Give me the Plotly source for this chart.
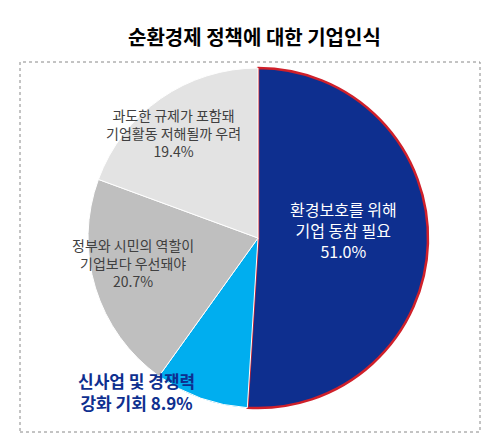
import plotly.graph_objects as go

labels = ["환경보호를 위해 기업 동참 필요", "신사업 및 경쟁력 강화 기회", "정부와 시민의 역할이 기업보다 우선돼야", "과도한 규제가 포함돼 기업활동 저해될까 우려"]
values = [51.0, 8.9, 20.7, 19.4]
colors = ["#0e2f8f", "#00aeef", "#bfbfbf", "#e3e3e3"]

W, H = 492, 441
def px(x, y):
    return x / W, 1 - y / H

fig = go.Figure(go.Pie(
    labels=labels, values=values, sort=False, direction="clockwise", rotation=0,
    marker=dict(colors=colors, line=dict(color=["#d0202a", "white", "white", "white"], width=[2.5, 1, 1, 1])),
    textinfo="none", hoverinfo="label+percent", showlegend=False,
    domain=dict(x=[80 / W, 420 / W], y=[1 - 400 / H, 1 - 60 / H]),
))

font = "Noto Sans CJK KR"
notes = [
    (labels[0].replace("위해 ", "위해<br>") + "<br>%.1f%%" % values[0], 335, 222, "white", 16, False),
    ("신사업 및 경쟁력<br>강화 기회 %.1f%%" % values[1], 128, 383, "#0e2f8f", 17, True),
    ("정부와 시민의 역할이<br>기업보다 우선돼야<br>%.1f%%" % values[2], 125, 255, "#404040", 14, False),
    ("과도한 규제가 포함돼<br>기업활동 저해될까 우려<br>%.1f%%" % values[3], 165, 125, "#404040", 14, False),
]
for text, x, y, c, s, b in notes:
    xx, yy = px(x, y)
    fig.add_annotation(x=xx, y=yy, xref="paper", yref="paper", showarrow=False,
                       xanchor="center", yanchor="middle",
                       text="<b>%s</b>" % text if b else text,
                       font=dict(family=font, size=s, color=c), align="center")

x0, y0 = px(12, 424)
x1, y1 = px(472, 54)
fig.add_shape(type="rect", xref="paper", yref="paper", x0=x0, y0=y0, x1=x1, y1=y1,
              line=dict(color="#888888", width=1, dash="dot"), layer="below")

tx, ty = px(246, 28)
fig.add_annotation(x=tx, y=ty, xref="paper", yref="paper", showarrow=False,
                   xanchor="center", yanchor="middle",
                   text="<b>순환경제 정책에 대한 기업인식</b>",
                   font=dict(family=font, size=20, color="black"))

fig.update_layout(width=W, height=H, margin=dict(l=0, r=0, t=0, b=0),
                  paper_bgcolor="white", plot_bgcolor="white")
fig.write_html("out.html")
